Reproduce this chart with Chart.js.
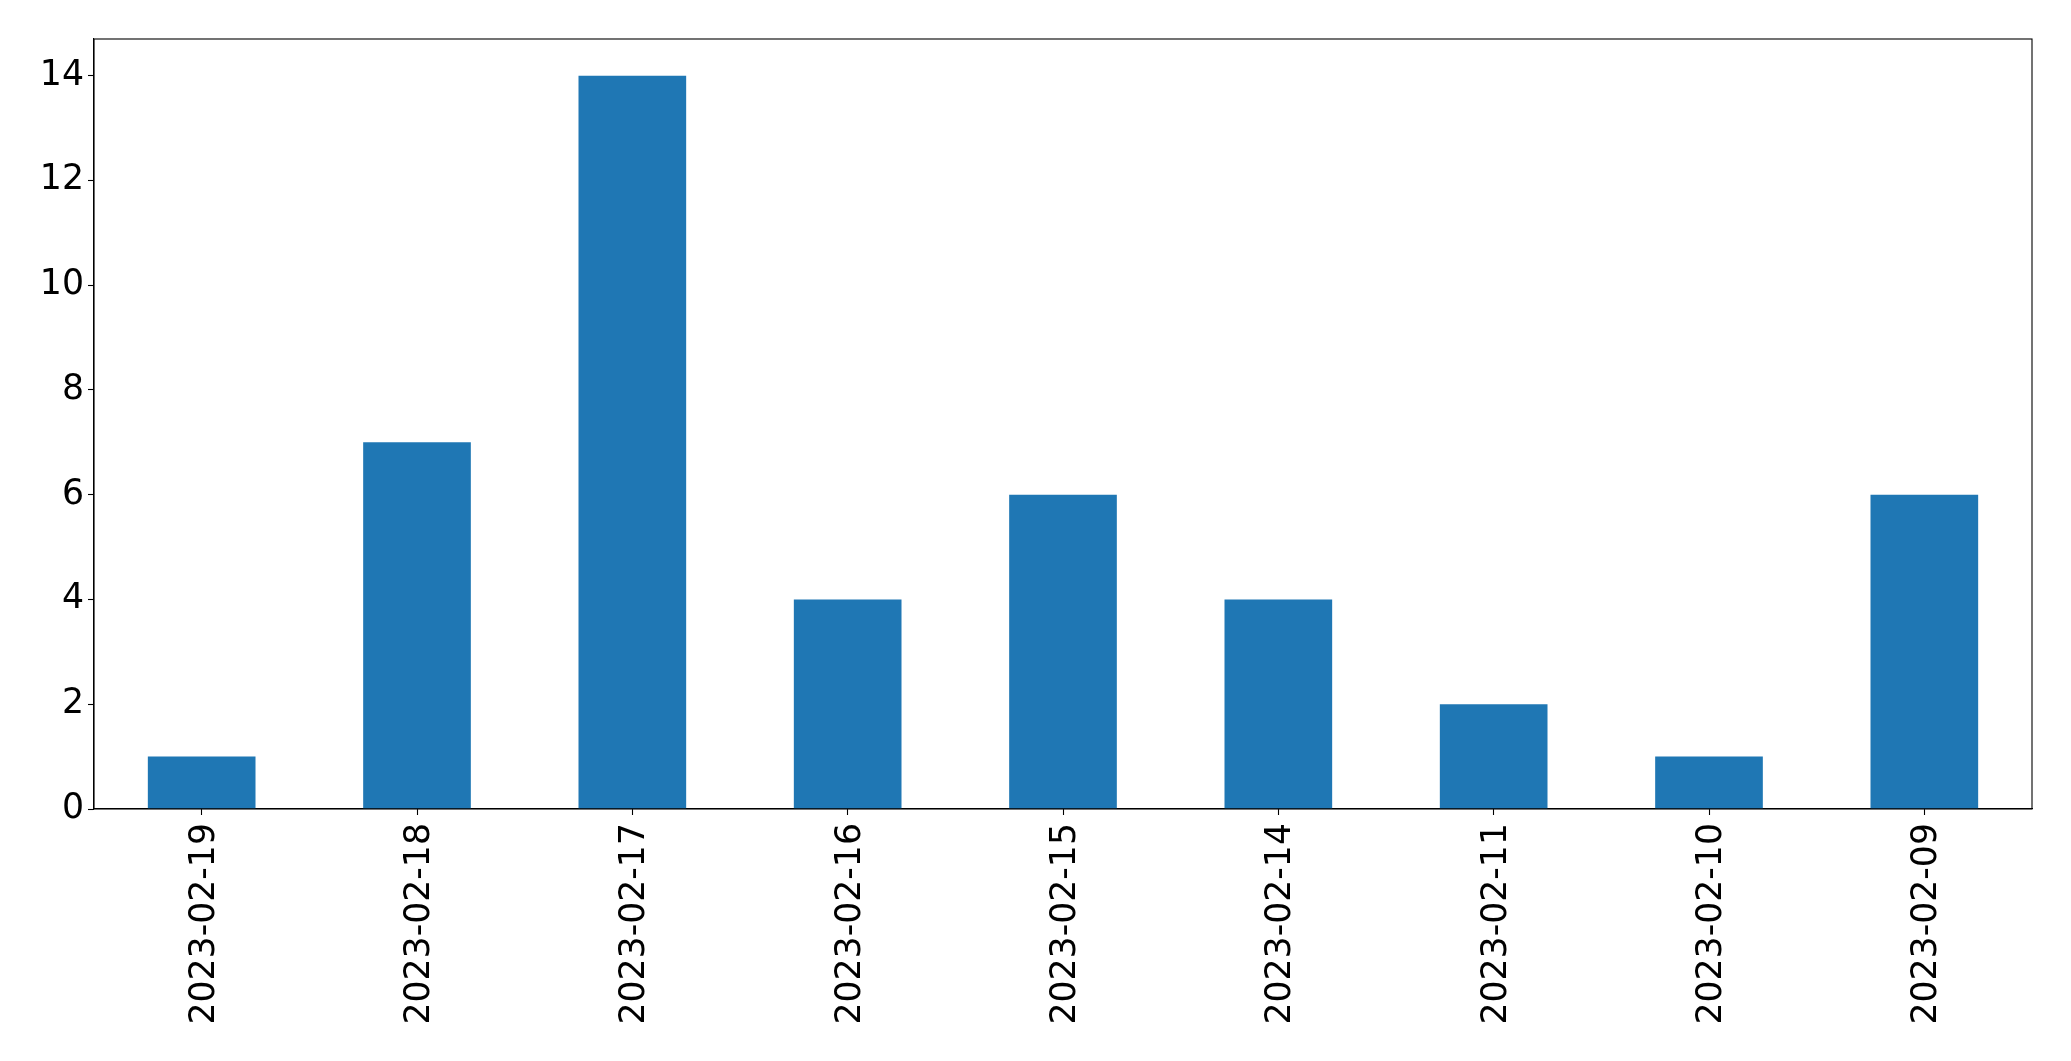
<!DOCTYPE html>
<html>
<head>
<meta charset="utf-8">
<script src="https://cdn.jsdelivr.net/npm/chart.js@4/dist/chart.umd.min.js"></script>
<style>
    html, body { margin: 0; padding: 0; background: #ffffff; }
    canvas { display: block; }
</style>
</head>
<body>
<canvas id="barChart" width="2071" height="1061"></canvas>
<script>
// Dados
const dates = ['2023-02-19', '2023-02-18', '2023-02-17', '2023-02-16', '2023-02-15',
               '2023-02-14', '2023-02-11', '2023-02-10', '2023-02-09'];
const counts = [1, 7, 14, 4, 6, 4, 2, 1, 6];
const yTicks = [0, 2, 4, 6, 8, 10, 12, 14];

const fontSpec = { family: 'DejaVu Sans', size: 34.7 };

// Moldura completa em volta da área do gráfico
const frame = {
    id: 'frame',
    afterDraw(chart) {
        const { ctx, chartArea: a } = chart;
        ctx.save();
        ctx.strokeStyle = '#000000';
        ctx.lineWidth = 1.1;
        ctx.strokeRect(a.left, a.top, a.right - a.left, a.bottom - a.top);
        ctx.restore();
    }
};

const ctx = document.getElementById('barChart').getContext('2d');

new Chart(ctx, {
    type: 'bar',
    data: {
        labels: dates,
        datasets: [{
            data: counts,
            backgroundColor: '#1f77b4',
            borderWidth: 0,
            barPercentage: 0.5,
            categoryPercentage: 1.0
        }]
    },
    options: {
        responsive: false,
        animation: false,
        layout: { padding: { top: 39, right: 39, left: 0, bottom: 0 } },
        plugins: {
            legend: { display: false },
            tooltip: { enabled: false }
        },
        scales: {
            x: {
                offset: true,
                border: { display: true, color: '#000000', width: 1.1 },
                grid: {
                    offset: false,
                    drawOnChartArea: false,
                    tickLength: 6,
                    tickColor: '#000000',
                    tickWidth: 1.1
                },
                ticks: {
                    color: '#000000',
                    font: fontSpec,
                    minRotation: 90,
                    maxRotation: 90,
                    autoSkip: false,
                    labelOffset: 3,
                    padding: 8
                },
                afterFit(axis) { axis.height = 252; }
            },
            y: {
                min: 0,
                max: 14.7,
                border: { display: true, color: '#000000', width: 1.1 },
                grid: {
                    drawOnChartArea: false,
                    tickLength: 6,
                    tickColor: '#000000',
                    tickWidth: 1.1
                },
                ticks: {
                    color: '#000000',
                    font: fontSpec,
                    padding: 4
                },
                afterBuildTicks(axis) {
                    axis.ticks = yTicks.map(v => ({ value: v }));
                },
                afterFit(axis) { axis.width = 94; }
            }
        }
    },
    plugins: [frame]
});
</script>
</body>
</html>
